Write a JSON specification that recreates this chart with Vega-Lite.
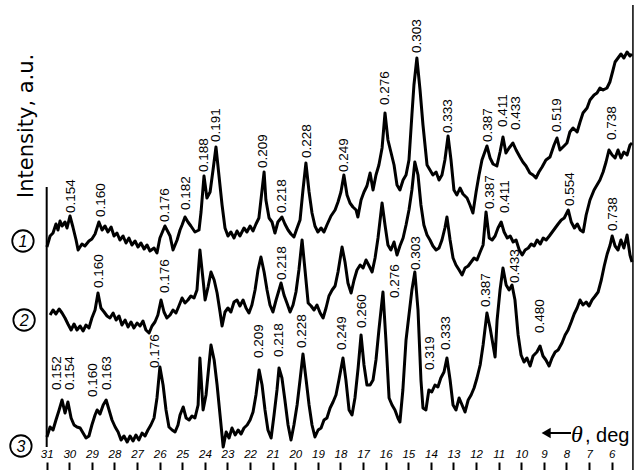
{
"$schema":"https://vega.github.io/schema/vega-lite/v6.json",
"width":637,"height":462,
"autosize":{"type":"none"},
"padding":{"left":0,"right":0,"top":0,"bottom":8},
"background":"white",
"config":{"view":{"stroke":null}},
"datasets":{
"traces":[
{"s":1,"x":30.99,"y":215},{"s":1,"x":30.85,"y":226},{"s":1,"x":30.72,"y":229},{"s":1,"x":30.59,"y":238},{"s":1,"x":30.5,"y":232},{"s":1,"x":30.41,"y":241},{"s":1,"x":30.32,"y":236},{"s":1,"x":30.19,"y":240},{"s":1,"x":30.1,"y":234},{"s":1,"x":29.97,"y":246},{"s":1,"x":29.84,"y":235},{"s":1,"x":29.7,"y":222},{"s":1,"x":29.61,"y":212},{"s":1,"x":29.44,"y":218},{"s":1,"x":29.31,"y":216},{"s":1,"x":29.13,"y":221},{"s":1,"x":29.0,"y":223},{"s":1,"x":28.86,"y":228},{"s":1,"x":28.69,"y":240},{"s":1,"x":28.55,"y":232},{"s":1,"x":28.42,"y":236},{"s":1,"x":28.29,"y":230},{"s":1,"x":28.15,"y":235},{"s":1,"x":28.02,"y":226},{"s":1,"x":27.89,"y":229},{"s":1,"x":27.76,"y":222},{"s":1,"x":27.62,"y":226},{"s":1,"x":27.49,"y":219},{"s":1,"x":27.36,"y":224},{"s":1,"x":27.23,"y":217},{"s":1,"x":27.09,"y":221},{"s":1,"x":26.96,"y":215},{"s":1,"x":26.83,"y":219},{"s":1,"x":26.69,"y":213},{"s":1,"x":26.56,"y":217},{"s":1,"x":26.43,"y":211},{"s":1,"x":26.25,"y":214},{"s":1,"x":26.12,"y":209},{"s":1,"x":25.99,"y":224},{"s":1,"x":25.77,"y":236},{"s":1,"x":25.63,"y":230},{"s":1,"x":25.54,"y":226},{"s":1,"x":25.41,"y":212},{"s":1,"x":25.23,"y":222},{"s":1,"x":25.1,"y":232},{"s":1,"x":25.01,"y":237},{"s":1,"x":24.88,"y":245},{"s":1,"x":24.75,"y":240},{"s":1,"x":24.62,"y":236},{"s":1,"x":24.44,"y":230},{"s":1,"x":24.26,"y":232},{"s":1,"x":24.17,"y":250},{"s":1,"x":24.04,"y":286},{"s":1,"x":23.91,"y":264},{"s":1,"x":23.77,"y":270},{"s":1,"x":23.64,"y":292},{"s":1,"x":23.51,"y":315},{"s":1,"x":23.38,"y":287},{"s":1,"x":23.24,"y":257},{"s":1,"x":23.11,"y":234},{"s":1,"x":22.98,"y":226},{"s":1,"x":22.85,"y":230},{"s":1,"x":22.71,"y":224},{"s":1,"x":22.58,"y":231},{"s":1,"x":22.45,"y":226},{"s":1,"x":22.27,"y":234},{"s":1,"x":22.14,"y":230},{"s":1,"x":22.0,"y":236},{"s":1,"x":21.87,"y":231},{"s":1,"x":21.74,"y":238},{"s":1,"x":21.61,"y":244},{"s":1,"x":21.47,"y":272},{"s":1,"x":21.38,"y":290},{"s":1,"x":21.3,"y":262},{"s":1,"x":21.16,"y":244},{"s":1,"x":21.03,"y":240},{"s":1,"x":20.9,"y":229},{"s":1,"x":20.77,"y":240},{"s":1,"x":20.59,"y":245},{"s":1,"x":20.46,"y":238},{"s":1,"x":20.32,"y":232},{"s":1,"x":20.19,"y":228},{"s":1,"x":20.06,"y":225},{"s":1,"x":19.92,"y":234},{"s":1,"x":19.79,"y":242},{"s":1,"x":19.66,"y":272},{"s":1,"x":19.53,"y":299},{"s":1,"x":19.39,"y":270},{"s":1,"x":19.26,"y":249},{"s":1,"x":19.13,"y":236},{"s":1,"x":19.0,"y":230},{"s":1,"x":18.86,"y":234},{"s":1,"x":18.73,"y":230},{"s":1,"x":18.6,"y":237},{"s":1,"x":18.42,"y":246},{"s":1,"x":18.24,"y":252},{"s":1,"x":18.11,"y":260},{"s":1,"x":17.98,"y":270},{"s":1,"x":17.85,"y":287},{"s":1,"x":17.71,"y":267},{"s":1,"x":17.58,"y":259},{"s":1,"x":17.45,"y":255},{"s":1,"x":17.31,"y":252},{"s":1,"x":17.23,"y":245},{"s":1,"x":17.09,"y":262},{"s":1,"x":16.96,"y":270},{"s":1,"x":16.83,"y":276},{"s":1,"x":16.69,"y":289},{"s":1,"x":16.56,"y":272},{"s":1,"x":16.43,"y":287},{"s":1,"x":16.3,"y":297},{"s":1,"x":16.16,"y":314},{"s":1,"x":16.03,"y":349},{"s":1,"x":15.9,"y":322},{"s":1,"x":15.77,"y":310},{"s":1,"x":15.63,"y":297},{"s":1,"x":15.5,"y":277},{"s":1,"x":15.37,"y":272},{"s":1,"x":15.23,"y":282},{"s":1,"x":15.1,"y":287},{"s":1,"x":14.97,"y":302},{"s":1,"x":14.84,"y":347},{"s":1,"x":14.75,"y":377},{"s":1,"x":14.62,"y":404},{"s":1,"x":14.48,"y":372},{"s":1,"x":14.35,"y":337},{"s":1,"x":14.17,"y":297},{"s":1,"x":14.04,"y":292},{"s":1,"x":13.91,"y":287},{"s":1,"x":13.77,"y":290},{"s":1,"x":13.64,"y":282},{"s":1,"x":13.51,"y":287},{"s":1,"x":13.38,"y":302},{"s":1,"x":13.24,"y":326},{"s":1,"x":13.11,"y":302},{"s":1,"x":12.98,"y":272},{"s":1,"x":12.85,"y":267},{"s":1,"x":12.71,"y":274},{"s":1,"x":12.58,"y":268},{"s":1,"x":12.4,"y":264},{"s":1,"x":12.27,"y":257},{"s":1,"x":12.14,"y":249},{"s":1,"x":12.0,"y":270},{"s":1,"x":11.87,"y":287},{"s":1,"x":11.74,"y":302},{"s":1,"x":11.52,"y":316},{"s":1,"x":11.38,"y":304},{"s":1,"x":11.25,"y":298},{"s":1,"x":11.08,"y":296},{"s":1,"x":10.94,"y":310},{"s":1,"x":10.81,"y":325},{"s":1,"x":10.68,"y":309},{"s":1,"x":10.54,"y":314},{"s":1,"x":10.37,"y":319},{"s":1,"x":10.23,"y":312},{"s":1,"x":10.06,"y":305},{"s":1,"x":9.93,"y":300},{"s":1,"x":9.79,"y":296},{"s":1,"x":9.62,"y":289},{"s":1,"x":9.48,"y":287},{"s":1,"x":9.35,"y":284},{"s":1,"x":9.22,"y":290},{"s":1,"x":9.08,"y":295},{"s":1,"x":8.91,"y":302},{"s":1,"x":8.73,"y":305},{"s":1,"x":8.55,"y":317},{"s":1,"x":8.42,"y":324},{"s":1,"x":8.29,"y":312},{"s":1,"x":8.11,"y":316},{"s":1,"x":7.98,"y":319},{"s":1,"x":7.85,"y":330},{"s":1,"x":7.71,"y":334},{"s":1,"x":7.53,"y":330},{"s":1,"x":7.4,"y":340},{"s":1,"x":7.27,"y":349},{"s":1,"x":7.09,"y":354},{"s":1,"x":6.96,"y":362},{"s":1,"x":6.78,"y":367},{"s":1,"x":6.65,"y":369},{"s":1,"x":6.52,"y":374},{"s":1,"x":6.38,"y":372},{"s":1,"x":6.21,"y":374},{"s":1,"x":6.08,"y":380},{"s":1,"x":5.94,"y":392},{"s":1,"x":5.85,"y":400},{"s":1,"x":5.72,"y":404},{"s":1,"x":5.59,"y":408},{"s":1,"x":5.46,"y":404},{"s":1,"x":5.32,"y":410},{"s":1,"x":5.19,"y":406},{"s":1,"x":5.1,"y":408},
{"s":2,"x":30.85,"y":147},{"s":2,"x":30.72,"y":152},{"s":2,"x":30.59,"y":148},{"s":2,"x":30.45,"y":153},{"s":2,"x":30.32,"y":149},{"s":2,"x":30.19,"y":144},{"s":2,"x":30.06,"y":138},{"s":2,"x":29.92,"y":132},{"s":2,"x":29.79,"y":138},{"s":2,"x":29.66,"y":132},{"s":2,"x":29.52,"y":136},{"s":2,"x":29.39,"y":131},{"s":2,"x":29.26,"y":137},{"s":2,"x":29.13,"y":134},{"s":2,"x":29.0,"y":144},{"s":2,"x":28.86,"y":152},{"s":2,"x":28.73,"y":169},{"s":2,"x":28.6,"y":154},{"s":2,"x":28.46,"y":150},{"s":2,"x":28.33,"y":146},{"s":2,"x":28.2,"y":144},{"s":2,"x":28.06,"y":149},{"s":2,"x":27.93,"y":142},{"s":2,"x":27.8,"y":146},{"s":2,"x":27.67,"y":137},{"s":2,"x":27.53,"y":142},{"s":2,"x":27.4,"y":135},{"s":2,"x":27.27,"y":140},{"s":2,"x":27.14,"y":134},{"s":2,"x":27.0,"y":139},{"s":2,"x":26.87,"y":136},{"s":2,"x":26.74,"y":141},{"s":2,"x":26.61,"y":132},{"s":2,"x":26.47,"y":129},{"s":2,"x":26.34,"y":136},{"s":2,"x":26.21,"y":140},{"s":2,"x":26.08,"y":147},{"s":2,"x":25.94,"y":162},{"s":2,"x":25.81,"y":150},{"s":2,"x":25.68,"y":144},{"s":2,"x":25.54,"y":147},{"s":2,"x":25.41,"y":152},{"s":2,"x":25.28,"y":149},{"s":2,"x":25.15,"y":156},{"s":2,"x":25.01,"y":164},{"s":2,"x":24.88,"y":159},{"s":2,"x":24.75,"y":162},{"s":2,"x":24.62,"y":166},{"s":2,"x":24.48,"y":164},{"s":2,"x":24.35,"y":172},{"s":2,"x":24.22,"y":212},{"s":2,"x":24.08,"y":182},{"s":2,"x":23.99,"y":162},{"s":2,"x":23.86,"y":175},{"s":2,"x":23.73,"y":190},{"s":2,"x":23.59,"y":182},{"s":2,"x":23.46,"y":169},{"s":2,"x":23.33,"y":150},{"s":2,"x":23.24,"y":136},{"s":2,"x":23.11,"y":150},{"s":2,"x":22.98,"y":154},{"s":2,"x":22.85,"y":150},{"s":2,"x":22.71,"y":160},{"s":2,"x":22.58,"y":162},{"s":2,"x":22.45,"y":156},{"s":2,"x":22.31,"y":162},{"s":2,"x":22.18,"y":154},{"s":2,"x":22.05,"y":149},{"s":2,"x":21.92,"y":157},{"s":2,"x":21.78,"y":172},{"s":2,"x":21.65,"y":192},{"s":2,"x":21.52,"y":205},{"s":2,"x":21.38,"y":190},{"s":2,"x":21.25,"y":172},{"s":2,"x":21.12,"y":157},{"s":2,"x":20.99,"y":150},{"s":2,"x":20.85,"y":162},{"s":2,"x":20.72,"y":172},{"s":2,"x":20.63,"y":179},{"s":2,"x":20.5,"y":167},{"s":2,"x":20.37,"y":159},{"s":2,"x":20.23,"y":150},{"s":2,"x":20.1,"y":157},{"s":2,"x":19.97,"y":170},{"s":2,"x":19.84,"y":192},{"s":2,"x":19.7,"y":222},{"s":2,"x":19.57,"y":192},{"s":2,"x":19.43,"y":159},{"s":2,"x":19.3,"y":156},{"s":2,"x":19.17,"y":152},{"s":2,"x":19.04,"y":157},{"s":2,"x":18.9,"y":149},{"s":2,"x":18.77,"y":144},{"s":2,"x":18.64,"y":154},{"s":2,"x":18.51,"y":166},{"s":2,"x":18.37,"y":172},{"s":2,"x":18.24,"y":176},{"s":2,"x":18.11,"y":190},{"s":2,"x":17.93,"y":215},{"s":2,"x":17.8,"y":200},{"s":2,"x":17.67,"y":179},{"s":2,"x":17.53,"y":169},{"s":2,"x":17.4,"y":182},{"s":2,"x":17.27,"y":192},{"s":2,"x":17.13,"y":197},{"s":2,"x":17.0,"y":194},{"s":2,"x":16.87,"y":202},{"s":2,"x":16.73,"y":196},{"s":2,"x":16.6,"y":190},{"s":2,"x":16.47,"y":204},{"s":2,"x":16.34,"y":224},{"s":2,"x":16.16,"y":259},{"s":2,"x":16.03,"y":237},{"s":2,"x":15.9,"y":217},{"s":2,"x":15.77,"y":212},{"s":2,"x":15.63,"y":220},{"s":2,"x":15.5,"y":207},{"s":2,"x":15.37,"y":216},{"s":2,"x":15.23,"y":224},{"s":2,"x":15.1,"y":237},{"s":2,"x":14.97,"y":252},{"s":2,"x":14.84,"y":272},{"s":2,"x":14.71,"y":300},{"s":2,"x":14.57,"y":287},{"s":2,"x":14.44,"y":257},{"s":2,"x":14.31,"y":237},{"s":2,"x":14.17,"y":227},{"s":2,"x":14.04,"y":222},{"s":2,"x":13.91,"y":216},{"s":2,"x":13.77,"y":212},{"s":2,"x":13.64,"y":214},{"s":2,"x":13.51,"y":222},{"s":2,"x":13.38,"y":234},{"s":2,"x":13.29,"y":245},{"s":2,"x":13.15,"y":222},{"s":2,"x":13.02,"y":204},{"s":2,"x":12.89,"y":197},{"s":2,"x":12.75,"y":192},{"s":2,"x":12.62,"y":187},{"s":2,"x":12.49,"y":194},{"s":2,"x":12.35,"y":196},{"s":2,"x":12.22,"y":200},{"s":2,"x":12.09,"y":204},{"s":2,"x":11.96,"y":202},{"s":2,"x":11.82,"y":210},{"s":2,"x":11.69,"y":217},{"s":2,"x":11.56,"y":250},{"s":2,"x":11.42,"y":224},{"s":2,"x":11.29,"y":222},{"s":2,"x":11.16,"y":226},{"s":2,"x":11.03,"y":234},{"s":2,"x":10.89,"y":240},{"s":2,"x":10.76,"y":230},{"s":2,"x":10.62,"y":224},{"s":2,"x":10.49,"y":226},{"s":2,"x":10.36,"y":220},{"s":2,"x":10.23,"y":222},{"s":2,"x":10.09,"y":212},{"s":2,"x":9.96,"y":207},{"s":2,"x":9.83,"y":212},{"s":2,"x":9.69,"y":214},{"s":2,"x":9.56,"y":218},{"s":2,"x":9.43,"y":216},{"s":2,"x":9.3,"y":222},{"s":2,"x":9.16,"y":218},{"s":2,"x":9.03,"y":224},{"s":2,"x":8.9,"y":222},{"s":2,"x":8.76,"y":226},{"s":2,"x":8.63,"y":230},{"s":2,"x":8.5,"y":234},{"s":2,"x":8.37,"y":238},{"s":2,"x":8.23,"y":242},{"s":2,"x":8.1,"y":244},{"s":2,"x":7.92,"y":252},{"s":2,"x":7.79,"y":240},{"s":2,"x":7.65,"y":234},{"s":2,"x":7.52,"y":238},{"s":2,"x":7.39,"y":232},{"s":2,"x":7.26,"y":230},{"s":2,"x":7.13,"y":247},{"s":2,"x":6.96,"y":262},{"s":2,"x":6.78,"y":272},{"s":2,"x":6.65,"y":277},{"s":2,"x":6.52,"y":282},{"s":2,"x":6.38,"y":290},{"s":2,"x":6.25,"y":300},{"s":2,"x":6.12,"y":312},{"s":2,"x":5.98,"y":307},{"s":2,"x":5.85,"y":304},{"s":2,"x":5.72,"y":312},{"s":2,"x":5.59,"y":304},{"s":2,"x":5.46,"y":310},{"s":2,"x":5.32,"y":307},{"s":2,"x":5.19,"y":317},{"s":2,"x":5.1,"y":319},
{"s":3,"x":30.99,"y":25},{"s":3,"x":30.85,"y":35},{"s":3,"x":30.72,"y":32},{"s":3,"x":30.59,"y":42},{"s":3,"x":30.45,"y":52},{"s":3,"x":30.32,"y":62},{"s":3,"x":30.19,"y":49},{"s":3,"x":30.06,"y":60},{"s":3,"x":29.92,"y":44},{"s":3,"x":29.79,"y":37},{"s":3,"x":29.66,"y":35},{"s":3,"x":29.52,"y":34},{"s":3,"x":29.39,"y":29},{"s":3,"x":29.26,"y":24},{"s":3,"x":29.13,"y":26},{"s":3,"x":29.0,"y":37},{"s":3,"x":28.86,"y":47},{"s":3,"x":28.77,"y":52},{"s":3,"x":28.64,"y":48},{"s":3,"x":28.5,"y":57},{"s":3,"x":28.37,"y":62},{"s":3,"x":28.24,"y":52},{"s":3,"x":28.11,"y":42},{"s":3,"x":27.97,"y":35},{"s":3,"x":27.84,"y":30},{"s":3,"x":27.71,"y":22},{"s":3,"x":27.58,"y":26},{"s":3,"x":27.44,"y":20},{"s":3,"x":27.31,"y":26},{"s":3,"x":27.18,"y":21},{"s":3,"x":27.05,"y":27},{"s":3,"x":26.92,"y":22},{"s":3,"x":26.78,"y":29},{"s":3,"x":26.65,"y":26},{"s":3,"x":26.52,"y":32},{"s":3,"x":26.39,"y":37},{"s":3,"x":26.25,"y":44},{"s":3,"x":26.12,"y":64},{"s":3,"x":25.99,"y":95},{"s":3,"x":25.85,"y":77},{"s":3,"x":25.72,"y":52},{"s":3,"x":25.59,"y":35},{"s":3,"x":25.45,"y":32},{"s":3,"x":25.32,"y":30},{"s":3,"x":25.19,"y":37},{"s":3,"x":25.1,"y":47},{"s":3,"x":24.96,"y":55},{"s":3,"x":24.83,"y":44},{"s":3,"x":24.7,"y":42},{"s":3,"x":24.57,"y":46},{"s":3,"x":24.44,"y":44},{"s":3,"x":24.3,"y":57},{"s":3,"x":24.22,"y":104},{"s":3,"x":24.08,"y":52},{"s":3,"x":23.95,"y":67},{"s":3,"x":23.82,"y":97},{"s":3,"x":23.73,"y":117},{"s":3,"x":23.59,"y":102},{"s":3,"x":23.46,"y":77},{"s":3,"x":23.33,"y":47},{"s":3,"x":23.19,"y":15},{"s":3,"x":23.06,"y":30},{"s":3,"x":22.93,"y":24},{"s":3,"x":22.8,"y":34},{"s":3,"x":22.66,"y":27},{"s":3,"x":22.53,"y":32},{"s":3,"x":22.4,"y":28},{"s":3,"x":22.27,"y":34},{"s":3,"x":22.13,"y":37},{"s":3,"x":22.0,"y":42},{"s":3,"x":21.87,"y":50},{"s":3,"x":21.74,"y":67},{"s":3,"x":21.6,"y":92},{"s":3,"x":21.47,"y":77},{"s":3,"x":21.34,"y":52},{"s":3,"x":21.21,"y":32},{"s":3,"x":21.07,"y":24},{"s":3,"x":20.94,"y":47},{"s":3,"x":20.81,"y":72},{"s":3,"x":20.72,"y":94},{"s":3,"x":20.59,"y":84},{"s":3,"x":20.46,"y":62},{"s":3,"x":20.32,"y":37},{"s":3,"x":20.19,"y":22},{"s":3,"x":20.06,"y":37},{"s":3,"x":19.92,"y":57},{"s":3,"x":19.79,"y":82},{"s":3,"x":19.66,"y":108},{"s":3,"x":19.52,"y":82},{"s":3,"x":19.39,"y":57},{"s":3,"x":19.26,"y":37},{"s":3,"x":19.13,"y":25},{"s":3,"x":18.99,"y":32},{"s":3,"x":18.86,"y":34},{"s":3,"x":18.73,"y":42},{"s":3,"x":18.6,"y":44},{"s":3,"x":18.46,"y":54},{"s":3,"x":18.33,"y":60},{"s":3,"x":18.2,"y":67},{"s":3,"x":18.07,"y":82},{"s":3,"x":17.89,"y":104},{"s":3,"x":17.76,"y":82},{"s":3,"x":17.62,"y":52},{"s":3,"x":17.49,"y":47},{"s":3,"x":17.36,"y":64},{"s":3,"x":17.22,"y":94},{"s":3,"x":17.09,"y":127},{"s":3,"x":16.96,"y":97},{"s":3,"x":16.83,"y":77},{"s":3,"x":16.69,"y":77},{"s":3,"x":16.56,"y":82},{"s":3,"x":16.43,"y":102},{"s":3,"x":16.3,"y":132},{"s":3,"x":16.12,"y":170},{"s":3,"x":15.99,"y":122},{"s":3,"x":15.85,"y":64},{"s":3,"x":15.72,"y":57},{"s":3,"x":15.59,"y":52},{"s":3,"x":15.46,"y":44},{"s":3,"x":15.37,"y":40},{"s":3,"x":15.24,"y":72},{"s":3,"x":15.1,"y":122},{"s":3,"x":14.97,"y":147},{"s":3,"x":14.84,"y":172},{"s":3,"x":14.71,"y":190},{"s":3,"x":14.57,"y":152},{"s":3,"x":14.44,"y":82},{"s":3,"x":14.35,"y":54},{"s":3,"x":14.22,"y":52},{"s":3,"x":14.09,"y":72},{"s":3,"x":13.96,"y":70},{"s":3,"x":13.82,"y":77},{"s":3,"x":13.69,"y":75},{"s":3,"x":13.56,"y":84},{"s":3,"x":13.42,"y":90},{"s":3,"x":13.29,"y":104},{"s":3,"x":13.15,"y":82},{"s":3,"x":13.02,"y":57},{"s":3,"x":12.89,"y":52},{"s":3,"x":12.75,"y":64},{"s":3,"x":12.62,"y":57},{"s":3,"x":12.49,"y":50},{"s":3,"x":12.35,"y":62},{"s":3,"x":12.22,"y":67},{"s":3,"x":12.09,"y":74},{"s":3,"x":11.96,"y":84},{"s":3,"x":11.82,"y":97},{"s":3,"x":11.69,"y":117},{"s":3,"x":11.52,"y":149},{"s":3,"x":11.38,"y":134},{"s":3,"x":11.25,"y":117},{"s":3,"x":11.16,"y":105},{"s":3,"x":11.07,"y":142},{"s":3,"x":10.94,"y":172},{"s":3,"x":10.81,"y":194},{"s":3,"x":10.67,"y":177},{"s":3,"x":10.54,"y":172},{"s":3,"x":10.41,"y":177},{"s":3,"x":10.28,"y":162},{"s":3,"x":10.14,"y":127},{"s":3,"x":10.01,"y":107},{"s":3,"x":9.88,"y":100},{"s":3,"x":9.75,"y":104},{"s":3,"x":9.61,"y":96},{"s":3,"x":9.48,"y":106},{"s":3,"x":9.31,"y":110},{"s":3,"x":9.17,"y":116},{"s":3,"x":9.04,"y":106},{"s":3,"x":8.91,"y":102},{"s":3,"x":8.77,"y":96},{"s":3,"x":8.64,"y":104},{"s":3,"x":8.5,"y":110},{"s":3,"x":8.37,"y":112},{"s":3,"x":8.2,"y":119},{"s":3,"x":8.06,"y":127},{"s":3,"x":7.93,"y":132},{"s":3,"x":7.79,"y":140},{"s":3,"x":7.66,"y":148},{"s":3,"x":7.53,"y":154},{"s":3,"x":7.4,"y":162},{"s":3,"x":7.27,"y":157},{"s":3,"x":7.13,"y":160},{"s":3,"x":7.0,"y":156},{"s":3,"x":6.87,"y":162},{"s":3,"x":6.73,"y":166},{"s":3,"x":6.6,"y":170},{"s":3,"x":6.46,"y":182},{"s":3,"x":6.33,"y":196},{"s":3,"x":6.2,"y":208},{"s":3,"x":6.07,"y":217},{"s":3,"x":5.98,"y":226},{"s":3,"x":5.85,"y":216},{"s":3,"x":5.72,"y":212},{"s":3,"x":5.59,"y":222},{"s":3,"x":5.46,"y":214},{"s":3,"x":5.32,"y":227},{"s":3,"x":5.19,"y":207},{"s":3,"x":5.1,"y":200}
],
"labels":[
{"s":1,"x":29.92,"y":249,"t":"0.154"},{"s":1,"x":28.6,"y":245,"t":"0.160"},{"s":1,"x":25.77,"y":240,"t":"0.176"},{"s":1,"x":24.84,"y":252,"t":"0.182"},{"s":1,"x":24.04,"y":290,"t":"0.188"},{"s":1,"x":23.51,"y":320,"t":"0.191"},{"s":1,"x":21.43,"y":294,"t":"0.209"},{"s":1,"x":20.59,"y":249,"t":"0.218"},{"s":1,"x":19.48,"y":304,"t":"0.228"},{"s":1,"x":17.85,"y":290,"t":"0.249"},{"s":1,"x":16.03,"y":357,"t":"0.276"},{"s":1,"x":14.62,"y":409,"t":"0.303"},{"s":1,"x":13.24,"y":329,"t":"0.333"},{"s":1,"x":11.47,"y":320,"t":"0.387"},{"s":1,"x":10.81,"y":335,"t":"0.411"},{"s":1,"x":10.23,"y":332,"t":"0.433"},{"s":1,"x":8.42,"y":330,"t":"0.519"},
{"s":2,"x":28.69,"y":174,"t":"0.160"},{"s":2,"x":25.77,"y":169,"t":"0.176"},{"s":2,"x":20.59,"y":182,"t":"0.218"},{"s":2,"x":11.38,"y":253,"t":"0.387"},{"s":2,"x":10.72,"y":249,"t":"0.411"},{"s":2,"x":7.85,"y":256,"t":"0.554"},{"s":2,"x":5.99,"y":322,"t":"0.738"},
{"s":3,"x":30.54,"y":72,"t":"0.152"},{"s":3,"x":29.97,"y":72,"t":"0.154"},{"s":3,"x":28.95,"y":65,"t":"0.160"},{"s":3,"x":28.33,"y":72,"t":"0.163"},{"s":3,"x":26.21,"y":94,"t":"0.176"},{"s":3,"x":21.6,"y":104,"t":"0.209"},{"s":3,"x":20.72,"y":105,"t":"0.218"},{"s":3,"x":19.7,"y":114,"t":"0.228"},{"s":3,"x":17.93,"y":112,"t":"0.249"},{"s":3,"x":17.05,"y":134,"t":"0.260"},{"s":3,"x":15.59,"y":164,"t":"0.276"},{"s":3,"x":14.66,"y":192,"t":"0.303"},{"s":3,"x":14.04,"y":92,"t":"0.319"},{"s":3,"x":13.33,"y":112,"t":"0.333"},{"s":3,"x":11.56,"y":155,"t":"0.387"},{"s":3,"x":10.28,"y":179,"t":"0.433"},{"s":3,"x":9.17,"y":129,"t":"0.480"},{"s":3,"x":5.94,"y":231,"t":"0.738"}
],
"vlines":[{"x":31,"y":275,"y2":15,"w":"left"},{"x":5.06,"y":457,"y2":-8,"w":"right"}],
"circles":[{"x":32.05,"y":221,"t":"1"},{"x":32.0,"y":142,"t":"2"},{"x":32.14,"y":16,"t":"3"}],
"arrow":[{"x":7.8,"x2":8.75,"y":29}],
"head":[{"x":8.9,"y":29}],
"ylab":[{"x":31.87,"y":264,"t":"Intensity, a.u."}],
"theta":[{"x":7.54,"y":20,"t":"θ"}],
"comma":[{"x":7.06,"y":20,"t":","}],
"deg":[{"x":6.69,"y":20,"t":"deg"}]
},
"encoding":{
"x":{"field":"x","type":"quantitative","scale":{"domain":[4.88,33.066],"reverse":true,"nice":false,"zero":false},
"axis":{"orient":"bottom","values":[6,7,8,9,10,11,12,13,14,15,16,17,18,19,20,21,22,23,24,25,26,27,28,29,30,31],"format":"d","title":null,"domain":false,"grid":false,"ticks":true,"tickSize":8,"tickWidth":2,"tickColor":"black","labelFont":"Liberation Sans","labelFontStyle":"italic","labelFontSize":11.5,"labelColor":"black","labelBaseline":"alphabetic","labelPadding":-12.5,"labelOverlap":false,"labelBound":false,"labelFlush":false}},
"y":{"field":"y","type":"quantitative","scale":{"domain":[0,462],"nice":false,"zero":false},"axis":null}
},
"layer":[
{"data":{"name":"traces"},"mark":{"type":"line","color":"black","strokeWidth":3,"strokeJoin":"round"},"encoding":{"detail":{"field":"s","type":"nominal"}}},
{"data":{"name":"vlines"},"transform":[{"filter":"datum.w=='left'"}],"mark":{"type":"rule","color":"black","strokeWidth":2},"encoding":{"y2":{"field":"y2"}}},
{"data":{"name":"vlines"},"transform":[{"filter":"datum.w=='right'"}],"mark":{"type":"rule","color":"black","strokeWidth":1.5},"encoding":{"y2":{"field":"y2"}}},
{"data":{"name":"labels"},"mark":{"type":"text","angle":-90,"align":"left","baseline":"middle","font":"Liberation Sans","fontSize":13.5,"color":"black"},"encoding":{"text":{"field":"t"}}},
{"data":{"name":"circles"},"mark":{"type":"point","shape":"circle","size":460,"filled":false,"stroke":"black","strokeWidth":1.8,"opacity":1}},
{"data":{"name":"circles"},"mark":{"type":"text","align":"center","baseline":"middle","font":"Liberation Sans","fontStyle":"italic","fontSize":16,"color":"black","dy":1},"encoding":{"text":{"field":"t"}}},
{"data":{"name":"arrow"},"mark":{"type":"rule","color":"black","strokeWidth":2},"encoding":{"x2":{"field":"x2"}}},
{"data":{"name":"head"},"mark":{"type":"point","shape":"triangle-left","size":110,"filled":true,"color":"black","opacity":1}},
{"data":{"name":"ylab"},"mark":{"type":"text","angle":-90,"align":"left","baseline":"middle","font":"DejaVu Sans","fontSize":21,"color":"black"},"encoding":{"text":{"field":"t"}}},
{"data":{"name":"theta"},"mark":{"type":"text","align":"center","baseline":"alphabetic","font":"Liberation Serif","fontStyle":"italic","fontSize":24,"color":"black"},"encoding":{"text":{"field":"t"}}},
{"data":{"name":"comma"},"mark":{"type":"text","align":"center","baseline":"alphabetic","font":"Liberation Sans","fontSize":20,"color":"black"},"encoding":{"text":{"field":"t"}}},
{"data":{"name":"deg"},"mark":{"type":"text","align":"left","baseline":"alphabetic","font":"Liberation Sans","fontSize":20,"color":"black"},"encoding":{"text":{"field":"t"}}}
]
}
